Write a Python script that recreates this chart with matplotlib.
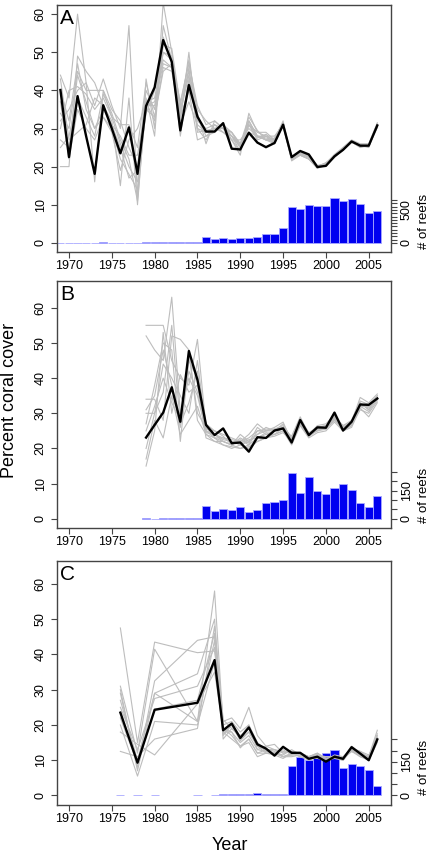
import matplotlib
matplotlib.use("Agg")
import matplotlib.pyplot as plt
import numpy as np

plt.rcParams['font.family'] = ['Liberation Sans', 'DejaVu Sans']

# ---------------- Panel A ----------------
years_a = list(range(1969, 2007))
mean_a = [40.1, 22.5, 38.5, 28.0, 18.1, 36.1, 30.0, 23.5, 30.3, 18.1, 35.9, 40.8, 53.2, 47.5,
          29.5, 41.4, 33.1, 29.2, 29.2, 31.4, 24.7, 24.5, 28.9, 26.3, 25.1, 26.2, 31.0, 22.5,
          24.1, 23.2, 19.9, 20.2, 22.7, 24.4, 26.6, 25.5, 25.5, 30.8]
gray_a = [
    [44, 38, 60, 42, 36, 43, 36, 30, 57, 12, 43, 30, 63, 50, 32, 50, 30, 27, 31, 30, 27, 23, 34, 29, 28, 27, 32, 22, 23, 22, 20, 21, 23, 25, 27, 26, 26, 31.5],
    [20, 20, 49, 45, 42, 36, 32, 15, 38, 10, 38, 28, 57, 48, 37, 47, 36, 31, 32, 30, 29, 25, 32, 28, 27, 26, 31, 21.5, 23, 22, 19.5, 20.5, 22.5, 24.5, 26.5, 25.5, 25, 31],
    [34, 30, 45, 40, 40, 40, 35, 32, 25, 20, 40, 35, 50, 49, 35, 45, 35, 32, 30, 30, 29, 26, 31, 29, 29, 27, 31.5, 22, 23.5, 22.5, 20, 20.5, 23, 24.5, 26.5, 25, 25.5, 30.5],
    [30, 40, 41, 39, 35, 38, 33, 26, 20, 16, 36, 37, 48, 46, 34, 44, 30, 29, 29, 31, 27, 27, 30, 28, 28, 28, 31, 22.5, 23, 22, 20, 20.2, 22.7, 24.7, 26.5, 25.3, 25.5, 30.5],
    [27, 25, 44, 37, 30, 33, 30, 22, 18, 14, 35, 33, 46, 45, 33, 40, 27, 28, 30, 31, 28, 24, 31, 28, 27, 27, 30.5, 22, 23.5, 22.5, 20, 21, 22.5, 24.3, 26.3, 25.7, 25.6, 31],
    [40, 32, 47, 35, 30, 35, 31, 25, 17, 19, 34, 40, 54, 47, 29, 42, 32, 30, 31, 29, 28, 25, 32, 27.5, 28.5, 26.5, 31, 22.2, 24, 23, 20.3, 20.8, 23.2, 25, 26.8, 25.4, 25.3, 30.6],
    [25, 28, 38, 33, 28, 39, 34, 27, 22, 11, 37, 32, 52, 51, 36, 48, 34, 26, 32, 30, 28, 26, 33, 29.5, 27, 27.5, 31.5, 21.8, 23.2, 22, 19.8, 20.3, 22.4, 24.6, 26.4, 25.2, 25.5, 30.2],
    [32, 35, 40, 42, 16, 40, 33, 31, 31, 25, 42, 33, 45, 47, 31, 37, 31, 29, 30, 29, 27, 24, 31, 27, 28, 26, 31.3, 22.5, 23.8, 22.8, 20.1, 20.7, 22.9, 24.4, 26.7, 25.6, 25.2, 30.8],
    [37, 22, 35, 30, 27, 33, 29, 19, 27, 30, 37, 38, 50, 48, 28, 43, 33, 28, 29, 31, 29, 26, 29, 28, 27, 26.5, 30.8, 22, 23.6, 22.4, 19.7, 20.6, 22.8, 24.8, 26.5, 25.4, 25.8, 31],
    [43, 27, 29, 31, 38, 36, 31, 28, 23, 23, 36, 36, 47, 46, 34, 46, 29, 29.5, 30, 30, 28, 25.5, 32, 28, 27.5, 27, 31, 22.4, 23.4, 22.6, 20.2, 20.4, 22.6, 24.5, 26.6, 25.8, 25.4, 31.2],
]
reefs_a = [3, 3, 2, 0, 3, 6, 0, 3, 3, 3, 18, 6, 6, 12, 6, 6, 15, 87, 58, 75, 64, 81, 70, 87,
           139, 136, 232, 545, 516, 571, 568, 563, 690, 632, 667, 592, 452, 487]

# ---------------- Panel B ----------------
years_b = list(range(1979, 2007))
mean_b = [23.1, 26.7, 30.2, 37.4, 27.6, 47.7, 39.5, 26.7, 23.8, 25.7, 21.5, 21.7, 19.1, 23.2,
          23.0, 25.1, 25.7, 21.7, 28.1, 23.8, 26.0, 25.9, 30.2, 25.1, 27.6, 32.5, 32.4, 34.2]
gray_b = [
    [55, 55, 55, 45, 40, 38, 51, 26, 24, 23, 22, 21, 22, 24, 25, 25, 26, 22, 28, 24, 26, 26, 29, 26, 27, 33, 31, 35],
    [52, 48, 45, 63, 30, 40, 35, 25, 23, 22, 21, 20, 21, 23, 24, 24, 25, 21.5, 27, 23.5, 25.5, 26, 28.5, 25.5, 27, 32, 32, 34],
    [34, 34, 28, 52, 51, 48, 28, 24, 22, 21, 20.5, 20, 20.5, 22, 23, 23.5, 24.5, 22, 27, 23.5, 25, 25.5, 28, 25.5, 26.5, 31, 30, 33.5],
    [27, 38, 50, 48, 22, 45, 40, 27, 25, 24, 23, 22, 23, 25, 25, 25.5, 26.5, 23, 28.5, 24.5, 26, 26.5, 29, 26.5, 28, 33.5, 32.5, 35],
    [20, 30, 44, 40, 35, 30, 45, 25, 24, 22, 21, 23, 21.5, 26, 24, 25, 27, 22.5, 27.5, 24, 26.5, 27, 29.5, 26, 27.5, 34.5, 33, 35.5],
    [17, 28, 23, 35, 24, 28, 32, 24, 23, 21, 20, 21, 20, 22, 23, 24, 25, 21, 26.5, 23, 24.5, 25, 27.5, 25, 26, 31.5, 29, 33],
    [15, 25, 53, 30, 41, 36, 38, 23, 22, 22, 21, 24, 22, 24, 26, 25, 25.5, 23.5, 29, 24, 25.5, 26, 28, 26, 27, 32.5, 31.5, 34.5],
    [31, 35, 48, 38, 26, 47, 30, 26, 23, 23, 22.5, 22, 24, 27, 25, 26, 27.5, 22, 27, 24.5, 25, 26, 29, 26.5, 27.5, 32, 32, 34],
    [30, 30, 36, 55, 27, 33, 42, 24.5, 24, 22.5, 22, 21.5, 22.5, 23, 24.5, 24, 26, 22.5, 28, 23.5, 25.5, 25.5, 28.5, 25, 26.5, 33, 31, 34.5],
    [25, 32, 40, 33, 28, 42, 36, 25.5, 25, 23.5, 21, 22.5, 21, 25, 25.5, 25.5, 26, 21.5, 27, 24, 26, 26.5, 29, 26, 27, 32, 30.5, 34],
]
reefs_b = [5, 0, 2, 5, 5, 2, 7, 69, 43, 54, 49, 62, 36, 49, 86, 90, 101, 243, 137, 224, 146,
           131, 163, 187, 153, 84, 64, 120]

# ---------------- Panel C ----------------
years_c = [1976, 1978, 1980, 1985, 1987] + list(range(1988, 2007))
mean_c = [23.5, 9.3, 24.3, 26.3, 38.4, 18.5, 20.4, 16.3, 19.3, 14.5, 13.3, 11.3, 13.8, 12.1,
          12.1, 10.4, 11.0, 9.6, 11.0, 10.4, 13.7, 11.9, 10.0, 15.9]
gray_c = [
    [47.5, 15, 43.5, 40.5, 41, 21, 22, 19, 25, 17, 14, 13, 12.5, 12, 12, 11, 11.5, 11, 11, 10.5, 13.5, 12, 11, 18.5],
    [31, 12, 41.5, 21, 58, 20, 21, 18, 20, 15, 13, 12, 13, 11.5, 11.5, 10.5, 11, 10.5, 11, 10.5, 13, 12.5, 10.5, 17],
    [29, 8, 32.5, 44, 45, 18, 18, 15, 17, 13, 14, 14.5, 12, 12.5, 12, 11, 12, 10.5, 10.5, 10, 13, 11.5, 10.5, 16],
    [27, 10, 29, 34.5, 50, 17, 20, 16, 18, 14, 12, 12, 11, 12, 11, 10.5, 11, 11, 11, 10.5, 14, 12, 11, 16.5],
    [25, 13, 27.5, 31, 42, 19, 17, 14, 16, 12, 13, 13, 11, 11.5, 12, 11, 11.5, 10, 11.5, 11, 13.5, 12.5, 11.5, 15.5],
    [22, 9, 24.5, 27, 46, 16, 19, 17, 19, 14.5, 12.5, 12, 11.5, 13, 11.5, 11, 12, 10.5, 10.5, 10.5, 12.5, 11.5, 10, 15],
    [20, 5.5, 21, 20, 38, 18, 16, 14, 15, 11, 12, 11.5, 10.5, 12, 11, 10, 11, 10, 11, 10, 13, 11, 10, 15.5],
    [18, 14.5, 11.5, 26, 35, 19, 18, 13.5, 16, 12, 12, 12, 11, 11, 11.5, 10.5, 10.5, 10, 10.5, 10.5, 12.5, 11, 10.5, 16],
    [12.5, 11, 16, 19, 48, 21.5, 19, 16.5, 20, 13, 12.5, 13, 12, 12.5, 11.5, 11, 11.5, 10.5, 11, 10.5, 13.5, 12, 11, 17.5],
    [30, 7, 29, 21, 44, 17.5, 20, 15.5, 18, 14, 13, 12.5, 11, 11.5, 12, 10.5, 11, 11, 11, 10, 13, 12.5, 10.5, 16.5],
]
reefs_c = [2, 2, 2, 2, 2, 6, 6, 7, 7, 9, 8, 8, 8, 133, 173, 160, 176, 187, 203, 124, 140, 133,
           113, 41]

panels = [
    dict(label="A", years=years_a, mean=mean_a, gray=gray_a, reefs=reefs_a,
         ylim=(-2.4, 62.4), k=58.0, rticks=list(range(0, 651, 50)), rlabels={0: "0", 500: "500"},
         box=(5, 252)),
    dict(label="B", years=years_b, mean=mean_b, gray=gray_b, reefs=reefs_b,
         ylim=(-2.6, 67.6), k=18.7, rticks=list(range(0, 251, 50)), rlabels={0: "0", 150: "150"},
         box=(281, 528)),
    dict(label="C", years=years_c, mean=mean_c, gray=gray_c, reefs=reefs_c,
         ylim=(-2.7, 66.5), k=15.7, rticks=list(range(0, 251, 50)), rlabels={0: "0", 150: "150"},
         box=(561, 805)),
]

W, H = 435, 856
fig = plt.figure(figsize=(W / 100, H / 100), dpi=100)
frame_col = "#444444"
for p in panels:
    top, bot = p["box"]
    left, right = 57, 391
    ax = fig.add_axes([left / W, 1 - bot / H, (right - left) / W, (bot - top) / H])
    ax2 = ax.twinx()
    # bars
    ax2.bar(p["years"], p["reefs"], width=0.95, color="#0000f0", edgecolor="#a8a8ff",
            linewidth=0.6, zorder=1)
    ax2.set_ylim(p["ylim"][0] * p["k"], p["ylim"][1] * p["k"])
    ax2.set_yticks(p["rticks"])
    ax2.set_yticklabels([p["rlabels"].get(t, "") for t in p["rticks"]], rotation=90,
                        va="center", fontsize=9)
    ax2.tick_params(axis="y", direction="out", length=4, width=0.8, color=frame_col, pad=3)
    for s in ax2.spines.values():
        s.set_visible(False)
    # "# of reefs" label centred on the secondary axis extent
    mid_frac = ((p["rticks"][-1] / p["k"]) / 2 - p["ylim"][0]) / (p["ylim"][1] - p["ylim"][0])
    ax2.text(1.098, mid_frac, "# of reefs", transform=ax2.transAxes, rotation=90,
             fontsize=9.5, ha="center", va="center")

    # lines above bars
    ax.set_zorder(ax2.get_zorder() + 1)
    ax.patch.set_visible(False)
    for g in p["gray"]:
        ax.plot(p["years"], g, color="#bdbdbd", lw=0.8, zorder=2)
    ax.plot(p["years"], p["mean"], color="black", lw=1.7, zorder=3)
    ax.set_xlim(1968.6, 2007.6)
    ax.set_ylim(*p["ylim"])
    ax.set_xticks(range(1970, 2006, 5))
    ax.set_yticks(range(0, 61, 10))
    ax.tick_params(axis="both", direction="out", length=4, width=0.8, color=frame_col,
                   labelsize=9)
    ax.tick_params(axis="x", pad=2)
    for lab in ax.get_yticklabels():
        lab.set_rotation(90)
        lab.set_va("center")
    for s in ax.spines.values():
        s.set_color(frame_col)
        s.set_linewidth(1.0)
    ax.text(0.01, 0.985, p["label"], transform=ax.transAxes, fontsize=15, va="top", ha="left")

fig.text(10 / W, 1 - 400 / H, "Percent coral cover", rotation=90, fontsize=13,
         ha="center", va="center")
fig.text(230 / W, 1 - 845 / H, "Year", fontsize=13, ha="center", va="center")

fig.savefig("out.png", dpi=100)
